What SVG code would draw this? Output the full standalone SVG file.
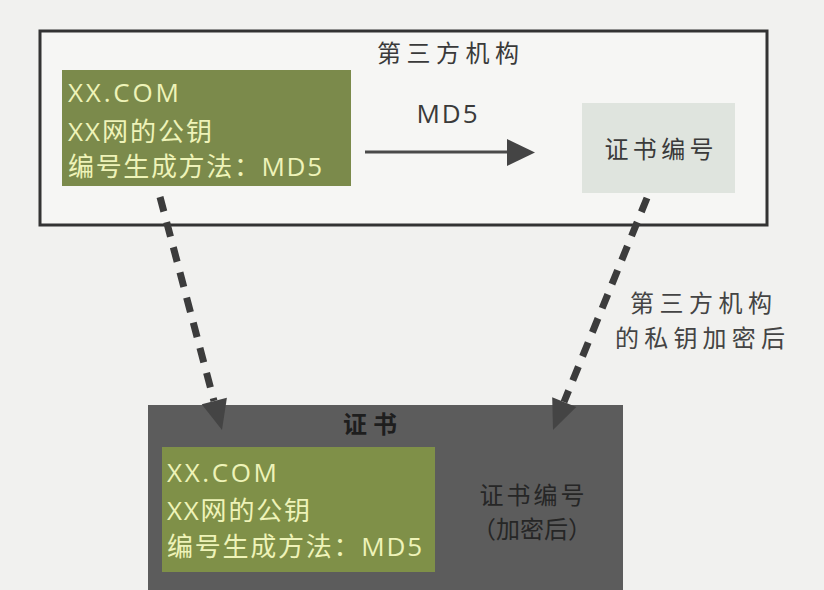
<svg xmlns="http://www.w3.org/2000/svg" width="824" height="590" viewBox="0 0 824 590">
<style>
  .t { font-family: "Open Sans", "Noto Sans CJK SC", sans-serif; font-size: 26px; }
  .cj { font-family: "Noto Sans CJK SC", sans-serif; font-size: 24px; }
  .lt { fill: #eef3b8; }
  .dk { fill: #3a3a3a; }
  .dash { stroke: #3c3c3c; stroke-width: 7; stroke-dasharray: 15 11; fill: none; }
  .head { fill: #444; }
</style>
<rect x="0" y="0" width="824" height="590" fill="#f1f1ef"/>

<g id="third-party">
  <rect x="40" y="31" width="727" height="194" fill="#f6f6f4" stroke="#333" stroke-width="3"/>
  <text class="cj dk" x="448" y="62" text-anchor="middle" textLength="142">第三方机构</text>
</g>

<g id="site-info-top">
  <rect x="62" y="70" width="289" height="116" fill="#7b8a4b"/>
  <text class="t lt" x="68" y="102" textLength="111">XX.COM</text>
  <text class="t lt" x="68" y="141" textLength="144">XX网的公钥</text>
  <text class="t lt" x="68" y="176" textLength="254">编号生成方法：MD5</text>
</g>

<g id="cert-number">
  <rect x="582" y="103" width="153" height="90" fill="#dfe4de"/>
  <text class="cj dk" x="659" y="158" text-anchor="middle" textLength="109">证书编号</text>
</g>

<g id="certificate">
  <rect x="148" y="405" width="475" height="190" fill="#5c5c5c"/>
  <text class="cj" x="370" y="433" text-anchor="middle" fill="#1e1e1e" font-weight="bold" textLength="54">证书</text>
  <rect x="162" y="447" width="273" height="125" fill="#7f9048"/>
  <text class="t lt" x="167" y="482" textLength="110">XX.COM</text>
  <text class="t lt" x="167" y="520" textLength="143">XX网的公钥</text>
  <text class="t lt" x="167" y="556" textLength="255">编号生成方法：MD5</text>
  <text class="cj" x="532" y="504" text-anchor="middle" fill="#262626" font-size="22" textLength="105">证书编号</text>
  <text class="cj" x="532" y="538" text-anchor="middle" fill="#262626" font-size="22">（加密后）</text>
</g>

<g id="connectors">
  <line x1="365" y1="152" x2="510" y2="152" stroke="#4a4a4a" stroke-width="3"/>
  <polygon class="head" points="507,139 535,152.5 507,166"/>
  <text class="t dk" x="447" y="123" text-anchor="middle" font-size="23" textLength="61">MD5</text>

  <line class="dash" x1="160" y1="197" x2="214" y2="401"/>
  <polygon class="head" points="222,430 226.9,397.7 201.7,404.3"/>

  <line class="dash" x1="647" y1="198" x2="564" y2="402"/>
  <polygon class="head" points="553,430 576.3,407.1 552.2,397.3"/>

  <text class="cj" x="701" y="312" text-anchor="middle" fill="#444" textLength="142">第三方机构</text>
  <text class="cj" x="700" y="347" text-anchor="middle" fill="#444" textLength="170">的私钥加密后</text>
</g>
</svg>
